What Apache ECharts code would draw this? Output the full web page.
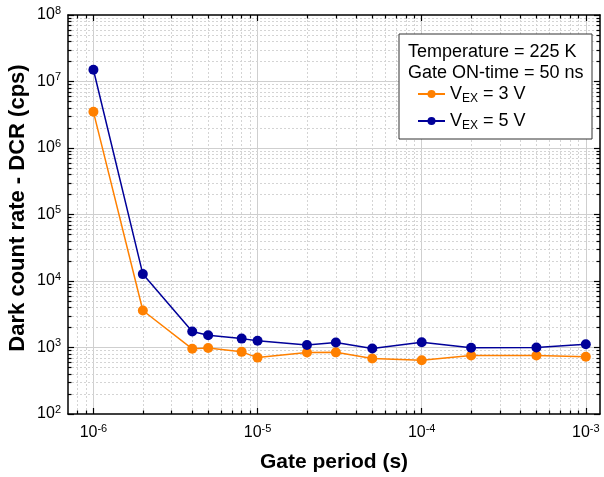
<!DOCTYPE html>
<html><head><meta charset="utf-8">
<script src="https://cdn.jsdelivr.net/npm/echarts@6/dist/echarts.min.js"></script>
<style>html,body{margin:0;padding:0;background:#fff}#c{width:604px;height:477px}</style>
</head><body><div id="c"></div>
<script>
// ---- data ----
const gatePeriod = [1e-6, 2e-6, 4e-6, 5e-6, 8e-6, 1e-5, 2e-5, 3e-5, 5e-5, 1e-4, 2e-4, 5e-4, 1e-3];
const dcrVex3 = [3.5e6, 3.6e3, 955, 980, 860, 705, 840, 845, 685, 645, 760, 760, 725];
const dcrVex5 = [1.5e7, 1.27e4, 1.74e3, 1.53e3, 1.36e3, 1.26e3, 1.09e3, 1.19e3, 965, 1.2e3, 990, 1.0e3, 1.12e3];
const seriesNames = ['VEX3', 'VEX5'];
const seriesLabels = ['V{sub|EX} = 3 V', 'V{sub|EX} = 5 V'];
const infoLines = ['Temperature = 225 K', 'Gate ON-time = 50 ns'];
const xTitle = 'Gate period (s)';
const yTitle = 'Dark count rate - DCR (cps)';
const xMajor = [1e-6, 1e-5, 1e-4, 1e-3];
const yMajor = [1e2, 1e3, 1e4, 1e5, 1e6, 1e7, 1e8];
const minorMult = [2, 3, 4, 5, 6, 7, 8, 9];
const xMinor = [8e-7, 9e-7];
[1e-6, 1e-5, 1e-4].forEach(d => minorMult.forEach(m => xMinor.push(+(d * m).toPrecision(3))));
const yMinor = [];
[1e2, 1e3, 1e4, 1e5, 1e6, 1e7].forEach(d => minorMult.forEach(m => yMinor.push(+(d * m).toPrecision(3))));
const xRange = [7e-7, 1.22e-3];
const yRange = [1e2, 1e8];

// ---- styling ----
const FONT = '"Liberation Sans", Arial, sans-serif';
const colors = ['#FF8000', '#000099'];

function powLabel(v) {
  const e = Math.round(Math.log10(v));
  return '{b|10}{s|' + e + '}';
}
const labelRich = {
  b: { fontSize: 16, fontFamily: FONT, color: '#000', lineHeight: 20 },
  s: { fontSize: 11, fontFamily: FONT, color: '#000', verticalAlign: 'top', lineHeight: 11 }
};

function mkX(pos, major, showLine, showLabel, name) {
  return {
    type: 'log', gridIndex: 0, position: pos, min: xRange[0], max: xRange[1], logBase: 10,
    axisLine: { show: showLine, onZero: false, lineStyle: { color: '#000', width: 1.5 } },
    axisTick: { show: true, inside: true, length: major ? 6 : 3.5, customValues: major ? xMajor : xMinor,
                lineStyle: { color: '#000', width: 1.2 } },
    axisLabel: { show: showLabel, customValues: xMajor, margin: 9, formatter: powLabel, rich: labelRich },
    splitLine: { show: false }, minorTick: { show: false }, minorSplitLine: { show: false },
    name: name || '', nameLocation: 'middle', nameGap: 38,
    nameTextStyle: { fontFamily: FONT, fontSize: 21, fontWeight: 'bold', color: '#000' }
  };
}
function mkY(pos, major, showLine, showLabel) {
  return {
    type: 'log', gridIndex: 0, position: pos, min: yRange[0], max: yRange[1], logBase: 10,
    axisLine: { show: showLine, onZero: false, lineStyle: { color: '#000', width: 1.5 } },
    axisTick: { show: true, inside: true, length: major ? 6 : 3.5, customValues: major ? yMajor : yMinor,
                lineStyle: { color: '#000', width: 1.2 } },
    axisLabel: { show: showLabel, customValues: yMajor, margin: 7, formatter: powLabel, rich: labelRich },
    splitLine: { show: false }, minorTick: { show: false }, minorSplitLine: { show: false }
  };
}

const gridLines = [];
const majorStyle = { type: 'solid', color: '#cfcfcf', width: 1 };
const minorStyle = { type: [2, 2], color: '#d4d4d4', width: 1 };
function vLine(v, st) { gridLines.push([{ coord: [v, yRange[0]], lineStyle: st }, { coord: [v, yRange[1]] }]); }
function hLine(v, st) { gridLines.push([{ coord: [xRange[0], v], lineStyle: st }, { coord: [xRange[1], v] }]); }
xMajor.forEach(v => vLine(v, majorStyle));
yMajor.slice(1, -1).forEach(v => hLine(v, majorStyle));
xMinor.forEach(v => vLine(v, minorStyle));
yMinor.forEach(v => hLine(v, minorStyle));

const chart = echarts.init(document.getElementById('c'), null, { renderer: 'canvas' });
chart.setOption({
  animation: false,
  backgroundColor: '#fff',
  grid: { left: 68, top: 15, right: 4, bottom: 63, containLabel: false, outerBoundsMode: 'none' },
  xAxis: [
    mkX('bottom', true, true, true, xTitle),
    mkX('bottom', false, false, false),
    mkX('top', true, true, false),
    mkX('top', false, false, false)
  ],
  yAxis: [
    mkY('left', true, true, true),
    mkY('left', false, false, false),
    mkY('right', true, true, false),
    mkY('right', false, false, false)
  ],
  legend: {
    data: seriesNames, orient: 'vertical', left: 417, top: 83, itemGap: 5, z: 100, padding: 0,
    itemWidth: 27, itemHeight: 10,
    formatter: n => seriesLabels[seriesNames.indexOf(n)],
    textStyle: {
      fontFamily: FONT, fontSize: 18, color: '#000', lineHeight: 22,
      rich: {
        sub: { fontFamily: FONT, fontSize: 12, color: '#000', verticalAlign: 'bottom', lineHeight: 12 }
      }
    }
  },
  graphic: [
    { type: 'text', x: 18, y: 208, rotation: Math.PI / 2, z: 10,
      style: { text: yTitle, font: 'bold 22px ' + FONT, fill: '#000', align: 'center', verticalAlign: 'middle' } },
    { type: 'rect', left: 398.5, top: 33.5, shape: { width: 193, height: 105 }, z: 50,
      style: { fill: '#fff', stroke: '#333', lineWidth: 1 } },
    { type: 'text', left: 408, top: 43, z: 51,
      style: { text: infoLines[0], font: '18px ' + FONT, fill: '#000' } },
    { type: 'text', left: 408, top: 64, z: 51,
      style: { text: infoLines[1], font: '18px ' + FONT, fill: '#000' } }
  ],
  series: [
    { type: 'line', name: '_grid', xAxisIndex: 0, yAxisIndex: 0, data: [], silent: true, z: 0,
      markLine: { silent: true, symbol: ['none', 'none'], label: { show: false }, z: 0, animation: false,
                  data: gridLines } },
    { type: 'line', name: seriesNames[0], xAxisIndex: 0, yAxisIndex: 0, z: 3,
      data: gatePeriod.map((x, i) => [x, dcrVex3[i]]),
      symbol: 'circle', symbolSize: 10, color: colors[0],
      lineStyle: { width: 1.5, color: colors[0] }, itemStyle: { color: colors[0] } },
    { type: 'line', name: seriesNames[1], xAxisIndex: 0, yAxisIndex: 0, z: 4,
      data: gatePeriod.map((x, i) => [x, dcrVex5[i]]),
      symbol: 'circle', symbolSize: 10, color: colors[1],
      lineStyle: { width: 1.5, color: colors[1] }, itemStyle: { color: colors[1] } }
  ]
});
</script></body></html>
